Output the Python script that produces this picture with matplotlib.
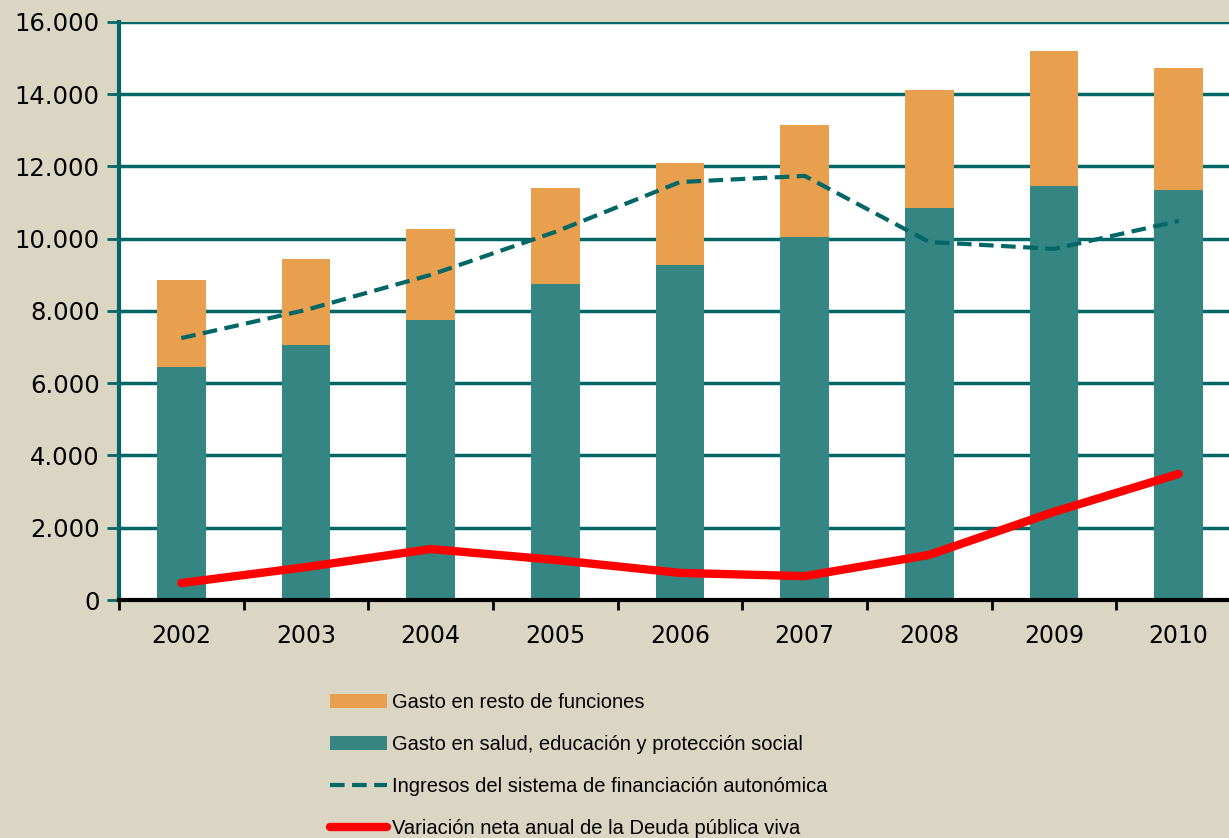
import matplotlib
matplotlib.use('Agg')
import matplotlib.pyplot as plt
import numpy as np

# values in millions of euros
years = ['2002', '2003', '2004', '2005', '2006', '2007', '2008', '2009', '2010']
gasto_social = [6450, 7060, 7750, 8750, 9270, 10050, 10850, 11460, 11350]
gasto_total = [8860, 9440, 10270, 11400, 12100, 13150, 14120, 15200, 14730]
ingresos = [7250, 8030, 9000, 10190, 11570, 11740, 9910, 9720, 10490]
deuda = [470, 910, 1410, 1110, 750, 660, 1250, 2440, 3490]

gasto_resto = [t - s for t, s in zip(gasto_total, gasto_social)]

bg = '#DBD6C4'
teal_bar = '#358583'
orange = '#E8A04E'
dark_teal = '#006666'
red = '#FF0000'

fig = plt.figure(figsize=(12.29, 8.38), dpi=100, facecolor=bg)
ax = fig.add_axes([119 / 1229, 1 - 600 / 838, 1122 / 1229, 578 / 838])
ax.set_facecolor('white')

x = np.arange(len(years))
b2 = ax.bar(x, gasto_social, width=0.39, color=teal_bar, zorder=2,
            label='Gasto en salud, educación y protección social')
b1 = ax.bar(x, gasto_resto, width=0.39, bottom=gasto_social, color=orange, zorder=2,
            label='Gasto en resto de funciones')
l1, = ax.plot(x, ingresos, color=dark_teal, lw=3, ls=(0, (3.5, 1.8)), zorder=3,
              label='Ingresos del sistema de financiación autonómica')
l2, = ax.plot(x, deuda, color=red, lw=6, solid_capstyle='round', zorder=4,
              label='Variación neta anual de la Deuda pública viva')

ax.set_xlim(-0.5, len(years) - 0.5)
ax.set_ylim(0, 16000)
ax.set_yticks(np.arange(0, 16001, 2000))
ax.set_yticklabels([f'{v:,}'.replace(',', '.') for v in range(0, 16001, 2000)])
ax.yaxis.grid(True, color=dark_teal, lw=2.5, zorder=0)
ax.set_axisbelow(True)

ax.set_xticks(x)
ax.set_xticklabels(years)
ax.set_xticks(np.arange(-0.5, len(years), 1), minor=True)
ax.tick_params(axis='x', which='major', length=0, pad=17, labelsize=17)
ax.tick_params(axis='x', which='minor', length=7, width=2, color='black', direction='out')
ax.tick_params(axis='y', length=9, width=2, color=dark_teal, pad=5, labelsize=17.5)

for s in ['top', 'right']:
    ax.spines[s].set_visible(False)
ax.spines['left'].set_color(dark_teal)
ax.spines['left'].set_linewidth(3)
ax.spines['bottom'].set_color('black')
ax.spines['bottom'].set_linewidth(3)

leg = fig.legend([b1, b2, l1, l2],
                 [b1.get_label(), b2.get_label(), l1.get_label(), l2.get_label()],
                 loc='upper left', bbox_to_anchor=(330 / 1229, 1 - 693 / 838),
                 frameon=False,
                 prop={'family': 'Liberation Sans', 'size': 14.5},
                 handlelength=2.85, handletextpad=0.25, labelspacing=1.15,
                 borderaxespad=0, borderpad=0)

fig.savefig('out.png', dpi=100, facecolor=bg)
